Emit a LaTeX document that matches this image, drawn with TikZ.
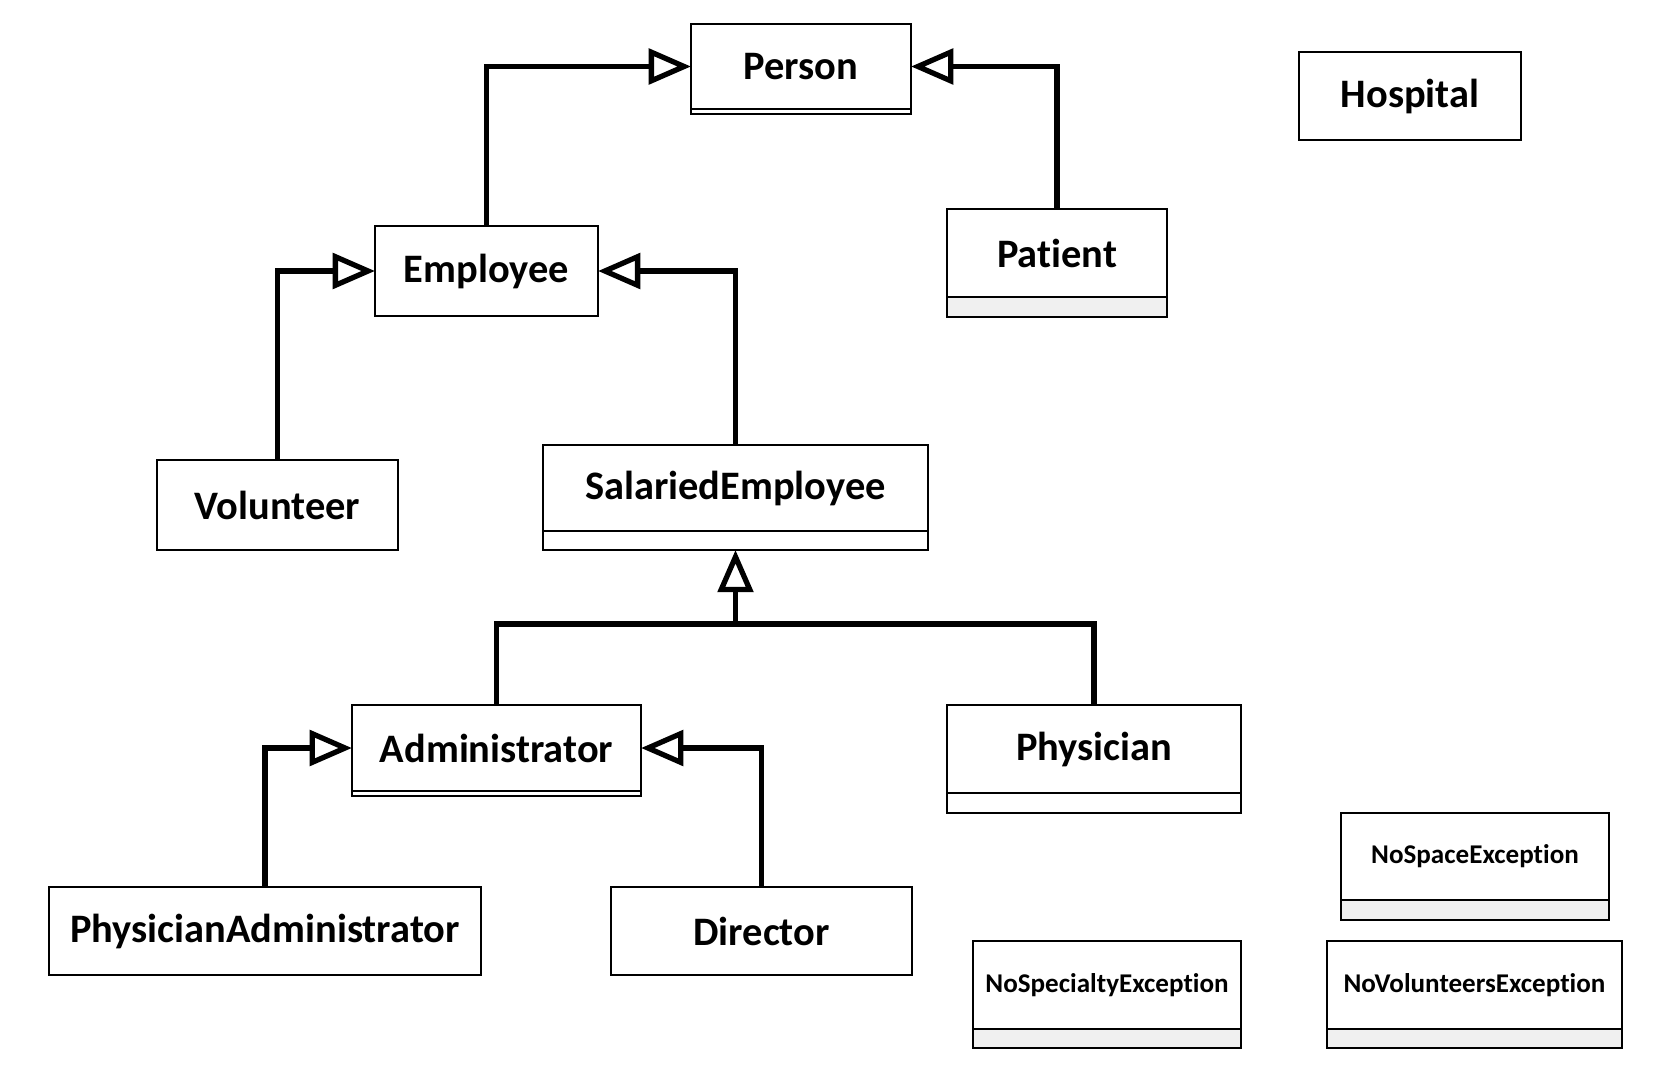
\documentclass[tikz,border=0pt]{standalone}
\usepackage{fontspec}
\setmainfont{Carlito}[Ligatures=NoCommon]
\usetikzlibrary{positioning,arrows.meta}

\tikzset{
  cls/.style={draw, line width=0.6pt, outer sep=0pt, inner sep=0pt,
    font=\fontsize{11.5pt}{13pt}\selectfont\bfseries},
  exc/.style={cls, font=\fontsize{7.7pt}{9pt}\selectfont\bfseries},
  ops/.style={draw, line width=0.6pt, outer sep=0pt, inner sep=0pt, fill=#1},
  ops/.default=white,
  gen/.style={line width=1.5pt, -{Triangle[open, length=12pt, width=10pt]}},
  link/.style={line width=1.5pt}
}

\begin{document}
\begin{tikzpicture}[x=0.01cm,y=-0.01cm]
\useasboundingbox (0,0) rectangle (1667,1082);

% classes
\node[cls, minimum width=2.2cm, minimum height=0.85cm] (person) at (801,66.5) {Person};
\node[ops, minimum width=2.2cm, minimum height=0.05cm, below=0pt of person] (person-ops) {};
\node[cls, minimum width=2.22cm, minimum height=0.88cm] (hospital) at (1410,96) {Hospital};
\node[cls, minimum width=2.23cm, minimum height=0.9cm] (employee) at (486.5,271) {Employee};
\node[cls, minimum width=2.2cm, minimum height=0.88cm] (patient) at (1057,253) {Patient};
\node[ops=gray!12, minimum width=2.2cm, minimum height=0.2cm, below=0pt of patient] (patient-ops) {};
\node[cls, minimum width=2.41cm, minimum height=0.9cm] (volunteer) at (277.5,505) {Volunteer};
\node[cls, minimum width=3.85cm, minimum height=0.86cm] (salaried) at (735.5,488) {SalariedEmployee};
\node[ops, minimum width=3.85cm, minimum height=0.19cm, below=0pt of salaried] (salaried-ops) {};
\node[cls, minimum width=2.89cm, minimum height=0.86cm] (admin) at (496.5,748) {Administrator};
\node[ops, minimum width=2.89cm, minimum height=0.05cm, below=0pt of admin] (admin-ops) {};
\node[cls, minimum width=2.94cm, minimum height=0.88cm] (physician) at (1094,749) {Physician};
\node[ops, minimum width=2.94cm, minimum height=0.2cm, below=0pt of physician] (physician-ops) {};
\node[cls, minimum width=4.32cm, minimum height=0.88cm] (physadmin) at (265,931) {PhysicianAdministrator};
\node[cls, minimum width=3.01cm, minimum height=0.88cm] (director) at (761.5,931) {Director};

% exceptions
\node[exc, minimum width=2.68cm, minimum height=0.87cm] (nospace) at (1475,856.5) {NoSpaceException};
\node[ops=gray!12, minimum width=2.68cm, minimum height=0.2cm, below=0pt of nospace] (nospace-ops) {};
\node[exc, minimum width=2.68cm, minimum height=0.88cm] (nospecialty) at (1107,985) {NoSpecialtyException};
\node[ops=gray!12, minimum width=2.68cm, minimum height=0.19cm, below=0pt of nospecialty] (nospecialty-ops) {};
\node[exc, minimum width=2.95cm, minimum height=0.88cm] (novolunteers) at (1474.5,985) {NoVolunteersException};
\node[ops=gray!12, minimum width=2.95cm, minimum height=0.19cm, below=0pt of novolunteers] (novolunteers-ops) {};

% inheritance
\draw[gen] (employee.north) |- (person.west);
\draw[gen] (patient.north) |- (person.east);
\draw[gen] (volunteer.north) |- (employee.west);
\draw[gen] (salaried.north) |- (employee.east);

\coordinate (joint) at (735.5,624);
\draw[link] (admin.north) |- (joint) -| (physician.north);
\draw[gen] (joint) -- (salaried-ops.south);

\draw[gen] (physadmin.north) |- (admin.west);
\draw[gen] (director.north) |- (admin.east);

\end{tikzpicture}
\end{document}
